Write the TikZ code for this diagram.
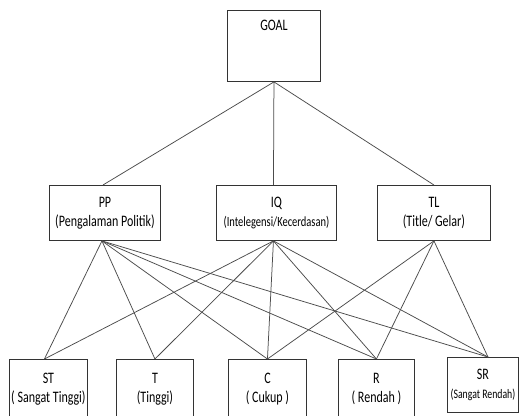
\documentclass[tikz,border=0pt]{standalone}
\usepackage{fontspec}
\setmainfont[FakeStretch=0.75]{Carlito}
\begin{document}
\begin{tikzpicture}[x=1pt,y=-1pt,
  box/.style={draw=black!80, line width=0.9pt, inner sep=0pt, anchor=north west,
    font=\fontsize{16}{19}\selectfont},
  tbox/.style={box, align=center},
  link/.style={draw=black!70, line width=0.75pt}]
\clip (0,0) rectangle (521,415);
\fill[white] (0,0) rectangle (521,415);
% goal
\node[box, minimum width=93pt, minimum height=71pt, text height=20pt, text depth=51pt] (goal) at (227,10) {GOAL};
% criteria
\node[tbox, minimum width=111pt, minimum height=55pt] (pp) at (49,185) {PP\\(Pengalaman Politik)};
\node[tbox, minimum width=120pt, minimum height=55pt] (iq) at (216,185) {IQ\\\fontsize{14}{17}\selectfont(Intelegensi/Kecerdasan)};
\node[tbox, minimum width=113pt, minimum height=55pt] (tl) at (377,185) {TL\\(Title/ Gelar)};
% alternatives
\node[tbox, minimum width=78pt, minimum height=60pt] (st) at (9,359) {ST\\( Sangat Tinggi)};
\node[tbox, minimum width=77pt, minimum height=60pt] (t) at (116,359) {T\\(Tinggi)};
\node[tbox, minimum width=78pt, minimum height=60pt] (c) at (228,359) {C\\( Cukup )};
\node[tbox, minimum width=76pt, minimum height=60pt] (r) at (338,359) {R\\( Rendah )};
\node[tbox, minimum width=71pt, minimum height=55pt] (sr) at (447,357) {SR\\\fontsize{13}{16}\selectfont(Sangat Rendah)};
% connection points
\coordinate (ppout) at ([xshift=-3pt]pp.south);
\coordinate (iqout) at ([xshift=-3pt]iq.south);
\coordinate (tlout) at (tl.south);
\coordinate (stin) at ([xshift=-4pt]st.north);
\coordinate (tin) at (t.north);
\coordinate (cin) at (c.north);
\coordinate (rin) at (r.north);
\coordinate (srin) at ([xshift=5pt]sr.north);
% goal links
\draw[link] (goal.south) -- ([xshift=-2pt]pp.north);
\draw[link] (goal.south) -- ([xshift=-3pt]iq.north);
\draw[link] (goal.south) -- (tl.north);
% criteria to alternatives
\foreach \b in {stin,tin,cin,rin,srin} {
  \draw[link] (ppout) -- (\b);
  \draw[link] (iqout) -- (\b);
}
\foreach \b in {cin,rin,srin} {
  \draw[link] (tlout) -- (\b);
}
\end{tikzpicture}
\end{document}
